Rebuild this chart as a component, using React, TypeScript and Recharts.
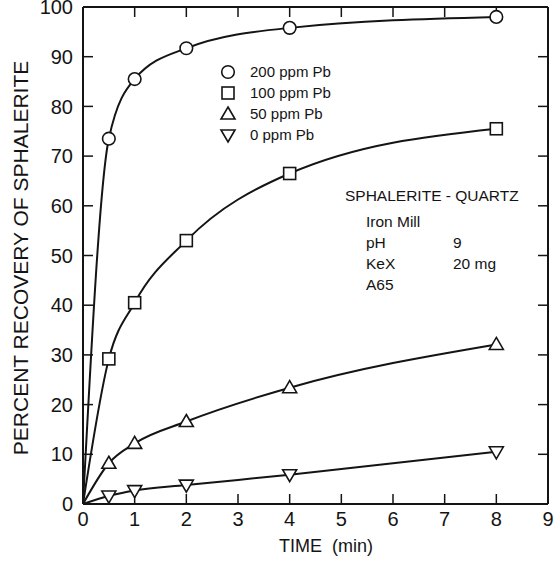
import React from 'react';
import { LineChart, Line, XAxis, YAxis } from 'recharts';

// flotation time (min) and recovery (%)
const times = [0, 0.5, 1, 2, 4, 8];
const pb200 = [0, 73.5, 85.5, 91.7, 95.8, 98];
const pb100 = [0, 29.2, 40.5, 53, 66.5, 75.5];
const pb50 = [0, 8.2, 12.2, 16.6, 23.4, 32.1];
const pb0 = [0, 1.6, 2.7, 3.8, 5.9, 10.5];

const xTicks = [0, 1, 2, 3, 4, 5, 6, 7, 8, 9];
const yTicks = [0, 10, 20, 30, 40, 50, 60, 70, 80, 90, 100];

const seriesLabels = ['200 ppm Pb', '100 ppm Pb', '50 ppm Pb', '0 ppm Pb'];
const noteLines = [
  ['Iron Mill', ''],
  ['pH', '9'],
  ['KeX', '20 mg'],
  ['A65', ''],
];

const data = times.map((t, i) => ({
  t,
  pb200: pb200[i],
  pb100: pb100[i],
  pb50: pb50[i],
  pb0: pb0[i],
}));

type Shape = 'circle' | 'square' | 'up' | 'down';

const INK = '#141414';
const FONT = '"Liberation Sans", Arial, Helvetica, sans-serif';

function Marker({ cx, cy, shape }: { cx: number; cy: number; shape: Shape }) {
  const common = { fill: '#fff', stroke: INK, strokeWidth: 1.6 };
  if (shape === 'circle') return <circle cx={cx} cy={cy} r={6.3} {...common} />;
  if (shape === 'square') return <rect x={cx - 6} y={cy - 6} width={12} height={12} {...common} />;
  if (shape === 'up') {
    return <polygon points={`${cx},${cy - 7} ${cx + 7},${cy + 5} ${cx - 7},${cy + 5}`} {...common} />;
  }
  return <polygon points={`${cx},${cy + 7} ${cx + 7},${cy - 5} ${cx - 7},${cy - 5}`} {...common} />;
}

const makeDot = (shape: Shape) => (p: any) => {
  if (p.index === 0) return <g key={`d-${shape}-${p.index}`} />;
  return <Marker key={`d-${shape}-${p.index}`} cx={p.cx} cy={p.cy} shape={shape} />;
};

const series: { key: string; shape: Shape }[] = [
  { key: 'pb200', shape: 'circle' },
  { key: 'pb100', shape: 'square' },
  { key: 'pb50', shape: 'up' },
  { key: 'pb0', shape: 'down' },
];

export default function App() {
  const tickStyle = { fill: INK, fontSize: 20, fontFamily: FONT };
  const axisLine = { stroke: INK, strokeWidth: 2 };
  const tickLine = { stroke: INK, strokeWidth: 1.5 };

  return (
    <div style={{ position: 'absolute', left: 0, top: 0, width: 554, height: 565, background: '#fff' }}>
      <LineChart
        width={554}
        height={565}
        data={data}
        margin={{ top: 6, right: 5, left: 0, bottom: 0 }}
      >
        <XAxis
          dataKey="t"
          type="number"
          domain={[0, 9]}
          ticks={xTicks}
          interval={0}
          height={61}
          tickSize={-10}
          tickMargin={18}
          tick={tickStyle}
          axisLine={axisLine}
          tickLine={tickLine}
          label={() => (
            <text x={326} y={552} textAnchor="middle" fill={INK} fontSize={18} fontFamily={FONT}>
              TIME{'\u00a0\u00a0'}(min)
            </text>
          )}
        />
        {/* mirror axes for the closed frame with inward ticks */}
        <XAxis
          xAxisId="top"
          dataKey="t"
          orientation="top"
          type="number"
          domain={[0, 9]}
          ticks={xTicks}
          interval={0}
          height={1}
          tickSize={-10}
          tickFormatter={() => ''}
          axisLine={axisLine}
          tickLine={tickLine}
        />
        <YAxis
          type="number"
          domain={[0, 100]}
          ticks={yTicks}
          interval={0}
          width={83}
          tickSize={-10}
          tickMargin={20}
          tick={tickStyle}
          axisLine={axisLine}
          tickLine={tickLine}
          label={() => (
            <text
              x={20}
              y={258}
              transform="rotate(-90 20 258)"
              textAnchor="middle"
              dominantBaseline="central"
              fill={INK}
              fontSize={21}
              fontFamily={FONT}
            >
              PERCENT RECOVERY OF SPHALERITE
            </text>
          )}
        />
        <YAxis
          yAxisId="right"
          orientation="right"
          type="number"
          domain={[0, 100]}
          ticks={yTicks}
          interval={0}
          width={1}
          tickSize={-10}
          tickFormatter={() => ''}
          axisLine={axisLine}
          tickLine={tickLine}
        />

        {/* invisible series so the mirror axes are drawn */}
        <Line
          xAxisId="top"
          yAxisId="right"
          dataKey="pb0"
          stroke="none"
          dot={false}
          activeDot={false}
          legendType="none"
          isAnimationActive={false}
        />

        {series.map((s) => (
          <Line
            key={s.key}
            type="monotone"
            dataKey={s.key}
            stroke={INK}
            strokeWidth={2}
            dot={makeDot(s.shape)}
            activeDot={false}
            isAnimationActive={false}
          />
        ))}
      </LineChart>

      {/* legend */}
      <div style={{ position: 'absolute', left: 219, top: 61, fontFamily: FONT, fontSize: 15, color: INK }}>
        {series.map((s, i) => (
          <div key={s.key} style={{ display: 'flex', alignItems: 'center', height: 21 }}>
            <svg width={18} height={18} style={{ marginRight: 13 }}>
              <Marker cx={9} cy={9} shape={s.shape} />
            </svg>
            <span>{seriesLabels[i]}</span>
          </div>
        ))}
      </div>

      {/* experimental conditions */}
      <div style={{ position: 'absolute', left: 345, top: 187, fontFamily: FONT, fontSize: 15.5, color: INK }}>
        <div style={{ height: 26 }}>SPHALERITE - QUARTZ</div>
        {noteLines.map(([k, v]) => (
          <div key={k} style={{ display: 'flex', height: 21, paddingLeft: 21 }}>
            <span style={{ width: 87 }}>{k}</span>
            <span>{v}</span>
          </div>
        ))}
      </div>
    </div>
  );
}
